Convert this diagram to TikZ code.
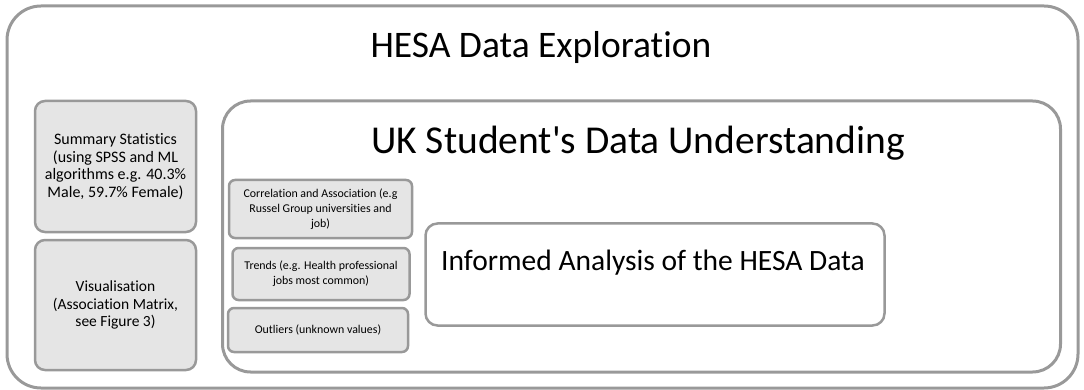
\documentclass[tikz,border=0pt]{standalone}
\usepackage{fontspec}
\setmainfont{Carlito}[Ligatures={NoCommon}]
\begin{document}
\begin{tikzpicture}[x=1pt,y=-1pt,
  frame/.style={draw=black!40, line width=3pt, rounded corners=#1, inner sep=0pt},
  greybox/.style={draw=black!40, fill=black!10, line width=2.5pt, rounded corners=10pt, inner sep=0pt, align=center},
  whitebox/.style={draw=black!40, fill=white, line width=2.5pt, rounded corners=12pt, inner sep=0pt, align=center}]
\useasboundingbox (0,0) rectangle (1084,390);
% outer frame
\node[frame=34pt, minimum width=1071pt, minimum height=382pt] (outer) at (542.5,197) {};
\node[font=\fontsize{37.5}{42}\selectfont] (title) at (541,48) {HESA Data Exploration};
% left column
\node[greybox, minimum width=161pt, minimum height=131pt, font=\fontsize{16}{17.5}\selectfont] (summary) at (115.5,166.5)
  {Summary Statistics\\(using SPSS and ML\\algorithms e.g. 40.3\%\\Male, 59.7\% Female)};
\node[greybox, minimum width=161pt, minimum height=130pt, font=\fontsize{15.5}{17.5}\selectfont] (visual) at (115.5,305)
  {Visualisation\\(Association Matrix,\\see Figure 3)};
% UK box
\node[frame=28pt, minimum width=838pt, minimum height=271pt] (uk) at (641.5,236.5) {};
\node[font=\fontsize{39.5}{44}\selectfont] (uktitle) at (638,143) {UK Student\textquotesingle s Data Understanding};
% small boxes
\node[greybox, rounded corners=6pt, minimum width=183pt, minimum height=58pt, font=\fontsize{11.9}{15}\selectfont] (corr) at (320.5,209)
  {Correlation and Association (e.g\\Russel Group universities and\\job)};
\node[greybox, rounded corners=6pt, minimum width=177pt, minimum height=52pt, font=\fontsize{11.9}{15}\selectfont] (trends) at (321,274)
  {Trends (e.g. Health professional\\jobs most common)};
\node[greybox, rounded corners=6pt, minimum width=180pt, minimum height=44pt, font=\fontsize{11.9}{15}\selectfont] (outl) at (318,330)
  {Outliers (unknown values)};
% informed box
\node[whitebox, minimum width=459pt, minimum height=102pt] (inf) at (655,274.5) {};
\node[font=\fontsize{29.5}{34}\selectfont] (inftext) at (653,263) {Informed Analysis of the HESA Data};
\end{tikzpicture}
\end{document}
